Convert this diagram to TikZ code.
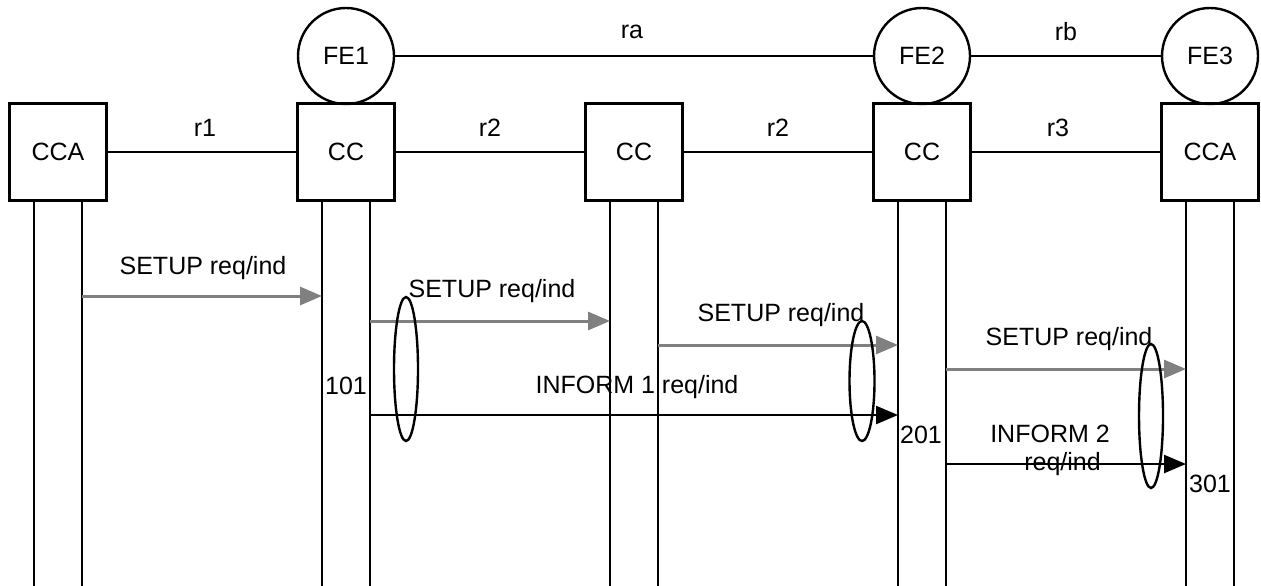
\documentclass[tikz,border=0pt]{standalone}
\usepackage{fontspec}
\setmainfont{Liberation Sans}
\usetikzlibrary{arrows.meta}
\definecolor{msggray}{RGB}{128,128,128}
\begin{document}
\begin{tikzpicture}[x=0.5pt, y=-0.5pt, font=\fontsize{12.5}{14}\selectfont,
    fe/.style={draw, circle, line width=1.2pt, minimum size=48pt, inner sep=0pt},
    ccbox/.style={draw, rectangle, line width=1.2pt, minimum size=48.5pt, inner sep=0pt},
    link/.style={line width=1.2pt},
    life/.style={line width=1.2pt},
    setupmsg/.style={line width=1.5pt, draw=msggray, -{Triangle[length=11pt, width=9pt]}},
    informmsg/.style={line width=1.2pt, -{Triangle[length=11pt, width=9pt]}},
    ring/.style={line width=1.2pt}]
    \useasboundingbox (0,0) rectangle (1261,585);
    % Entities
    \node[ccbox] (cca1) at (58,152) {CCA};
    \node[ccbox] (cc1) at (346,152) {CC};
    \node[ccbox] (cc2) at (634,152) {CC};
    \node[ccbox] (cc3) at (922,152) {CC};
    \node[ccbox] (cca2) at (1210,152) {CCA};
    \node[fe] (fe1) at (346,56) {FE1};
    \node[fe] (fe2) at (922,56) {FE2};
    \node[fe] (fe3) at (1210,56) {FE3};
    % Relationships
    \draw[link] (cca1) -- (cc1);
    \node at (205,128) {r1};
    \draw[link] (cc1) -- (cc2);
    \node at (490,128) {r2};
    \draw[link] (cc2) -- (cc3);
    \node at (778,128) {r2};
    \draw[link] (cc3) -- (cca2);
    \node at (1058,128) {r3};
    \draw[link] (fe1) -- (fe2);
    \node at (632,32) {ra};
    \draw[link] (fe2) -- (fe3);
    \node at (1066,32) {rb};
    % Lifelines
    \coordinate (cca1l) at ([xshift=-12pt]cca1.south);
    \coordinate (cca1r) at ([xshift=12pt]cca1.south);
    \coordinate (cc1l) at ([xshift=-12pt]cc1.south);
    \coordinate (cc1r) at ([xshift=12pt]cc1.south);
    \coordinate (cc2l) at ([xshift=-12pt]cc2.south);
    \coordinate (cc2r) at ([xshift=12pt]cc2.south);
    \coordinate (cc3l) at ([xshift=-12pt]cc3.south);
    \coordinate (cc3r) at ([xshift=12pt]cc3.south);
    \coordinate (cca2l) at ([xshift=-12pt]cca2.south);
    \coordinate (cca2r) at ([xshift=12pt]cca2.south);
    \draw[life] (cca1l) -- ++(0,386);
    \draw[life] (cca1r) -- ++(0,386);
    \draw[life] (cc1l) -- ++(0,386);
    \draw[life] (cc1r) -- ++(0,386);
    \draw[life] (cc2l) -- ++(0,386);
    \draw[life] (cc2r) -- ++(0,386);
    \draw[life] (cc3l) -- ++(0,386);
    \draw[life] (cc3r) -- ++(0,386);
    \draw[life] (cca2l) -- ++(0,386);
    \draw[life] (cca2r) -- ++(0,386);
    % Message levels
    \coordinate (t1) at (0,296);
    \coordinate (t2) at (0,321);
    \coordinate (t3) at (0,345);
    \coordinate (t4) at (0,369);
    \coordinate (t5) at (0,415);
    \coordinate (t6) at (0,464);
    % SETUP messages
    \draw[setupmsg] (cca1r |- t1) -- (cc1l |- t1);
    \node at (203,268) {SETUP req/ind};
    \draw[setupmsg] (cc1r |- t2) -- (cc2l |- t2);
    \node at (492,291) {SETUP req/ind};
    \draw[setupmsg] (cc2r |- t3) -- (cc3l |- t3);
    \node at (781,315) {SETUP req/ind};
    \draw[setupmsg] (cc3r |- t4) -- (cca2l |- t4);
    \node at (1069,339) {SETUP req/ind};
    % INFORM messages
    \draw[informmsg] (cc1r |- t5) -- (cc3l |- t5);
    \node at (637,387) {INFORM 1 req/ind};
    \draw[informmsg] (cc3r |- t6) -- (cca2l |- t6);
    \node[align=center] at (1050,450) {INFORM 2\\ \quad req/ind};
    % Timers
    \node at (346,386) {101};
    \node at (921,435) {201};
    \node at (1210,484) {301};
    \draw[ring] (406,369) ellipse [x radius=12, y radius=72];
    \draw[ring] (862,381) ellipse [x radius=12.5, y radius=60];
    \draw[ring] (1151,416) ellipse [x radius=12, y radius=72];
\end{tikzpicture}
\end{document}
